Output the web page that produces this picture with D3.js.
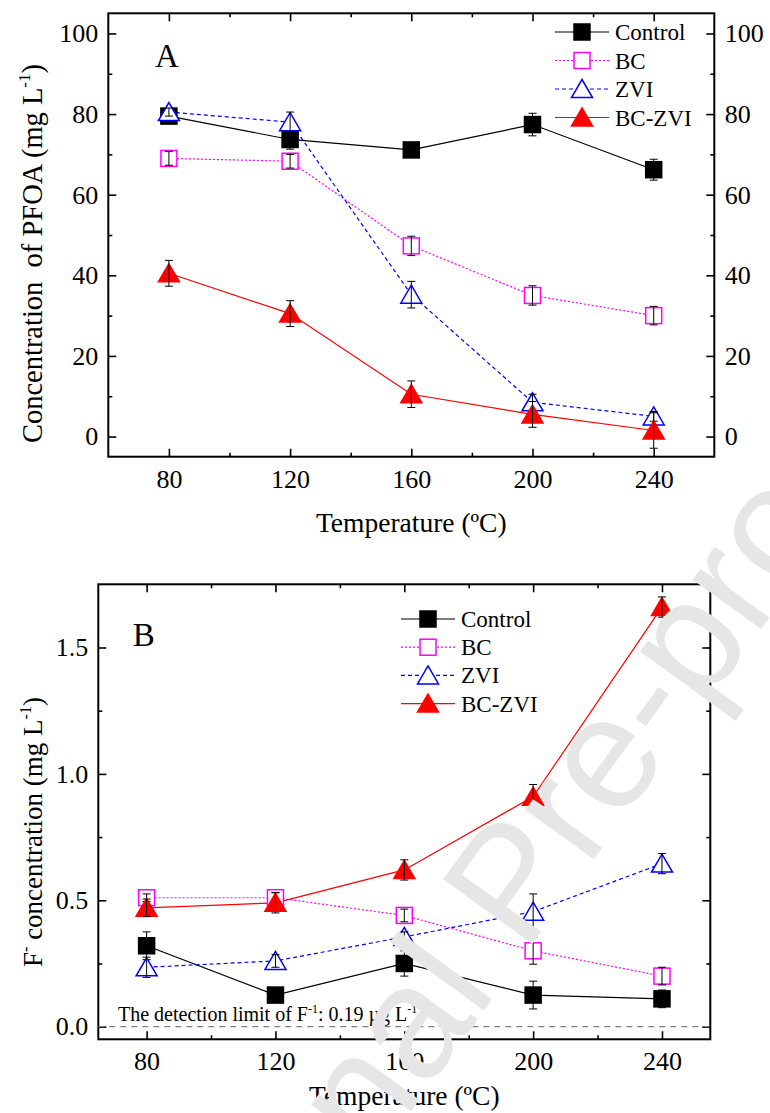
<!DOCTYPE html>
<html>
<head>
<meta charset="utf-8">
<script src="https://cdn.jsdelivr.net/npm/d3@7"></script>
<style>
body { margin: 0; background: #fff; }
text { font-family: "Liberation Serif", "Times New Roman", serif; }
</style>
</head>
<body>
<div class="chart"></div>
<script>
const temps = [80, 120, 160, 200, 240];
const names = ["Control", "BC", "ZVI", "BC-ZVI"];

// panel A, PFOA concentration (mg/L)
const pfoaControl = [79.5, 73.7, 71.1, 77.4, 66.2];
const pfoaControlErr = [1.6, 2.4, 1.0, 2.8, 2.6];
const pfoaBC = [69.0, 68.3, 47.3, 35.0, 30.0];
const pfoaBCErr = [1.7, 1.7, 2.4, 2.4, 2.3];
const pfoaZVI = [80.5, 78.0, 35.2, 8.5, 5.0];
const pfoaZVIErr = [1.0, 2.5, 3.3, 2.0, 1.2];
const pfoaBCZVI = [40.5, 30.5, 10.5, 5.5, 1.5];
const pfoaBCZVIErr = [3.2, 3.2, 3.3, 3.2, 4.4];

// panel B, F- concentration (mg/L)
const fControl = [0.32, 0.125, 0.25, 0.125, 0.11];
const fControlErr = [0.055, 0.01, 0.05, 0.055, 0.035];
const fBC = [0.51, 0.51, 0.44, 0.30, 0.20];
const fBCErr = [0.015, 0.02, 0.025, 0.053, 0.035];
const fZVI = [0.235, 0.26, 0.355, 0.455, 0.645];
const fZVIErr = [0.04, 0.025, 0.02, 0.07, 0.04];
const fBCZVI = [0.47, 0.49, 0.62, 0.91, 1.66];
const fBCZVIErr = [0.035, 0.04, 0.04, 0.048, 0.04];

const xTicks = [80, 120, 160, 200, 240];
const xMinor = [100, 140, 180, 220];
const yTicksA = [0, 20, 40, 60, 80, 100];
const yMinorA = [10, 30, 50, 70, 90];
const yTicksB = [0, 0.5, 1.0, 1.5];
const yMinorB = [0.25, 0.75, 1.25];

const styles = {
    "Control": {color: "#000000", dash: null, shape: "square", filled: true},
    "BC": {color: "#ff00ff", dash: "2,2", shape: "square", filled: false},
    "ZVI": {color: "#0000ff", dash: "4,3", shape: "triangle", filled: false},
    "BC-ZVI": {color: "#ff0000", dash: null, shape: "triangle", filled: true}
};

const svg = d3.select(".chart").append("svg")
    .attr("width", 770)
    .attr("height", 1113);

function marker(g, name, x, y) {
    const s = styles[name];
    if (s.shape == "square") {
        g.append("rect")
            .attr("x", x - 8).attr("y", y - 8)
            .attr("width", 16).attr("height", 16)
            .attr("fill", s.filled ? s.color : "#fff")
            .attr("stroke", s.color)
            .attr("stroke-width", 1.5);
    } else {
        g.append("path")
            .attr("d", `M${x},${y - 9.5}L${x + 10.5},${y + 8.5}L${x - 10.5},${y + 8.5}Z`)
            .attr("fill", s.filled ? s.color : "#fff")
            .attr("stroke", s.color)
            .attr("stroke-width", 1.5);
    }
}

function drawPanel(p) {
    const xScale = d3.scaleLinear().domain(p.xDomain).range([p.left, p.right]);
    const yScale = d3.scaleLinear().domain(p.yDomain).range([p.bottom, p.top]);
    const g = svg.append("g");

    // ticks (inward)
    const axes = [
        [d3.axisBottom(xScale).tickValues(xTicks).tickSizeInner(-8).tickPadding(12.5).tickFormat(d3.format("d")), `translate(0,${p.bottom})`, 26],
        [d3.axisBottom(xScale).tickValues(xMinor).tickSizeInner(-4).tickFormat(""), `translate(0,${p.bottom})`, 0],
        [d3.axisTop(xScale).tickValues(xTicks).tickSizeInner(-8).tickFormat(""), `translate(0,${p.top})`, 0],
        [d3.axisTop(xScale).tickValues(xMinor).tickSizeInner(-4).tickFormat(""), `translate(0,${p.top})`, 0],
        [d3.axisLeft(yScale).tickValues(p.yTicks).tickSizeInner(-8).tickPadding(10).tickFormat(p.fmt), `translate(${p.left},0)`, 26],
        [d3.axisLeft(yScale).tickValues(p.yMinor).tickSizeInner(-4).tickFormat(""), `translate(${p.left},0)`, 0],
        [d3.axisRight(yScale).tickValues(p.yTicks).tickSizeInner(-8).tickPadding(10.5).tickFormat(p.rightLabels ? p.fmt : ""), `translate(${p.right},0)`, 26],
        [d3.axisRight(yScale).tickValues(p.yMinor).tickSizeInner(-4).tickFormat(""), `translate(${p.right},0)`, 0]
    ];
    axes.forEach(a => {
        g.append("g")
            .attr("transform", a[1])
            .call(a[0].tickSizeOuter(0))
            .call(ax => ax.select(".domain").remove())
            .call(ax => ax.selectAll(".tick line").attr("stroke", "#000").attr("stroke-width", 1.6))
            .call(ax => ax.selectAll(".tick text")
                .attr("fill", "#000")
                .style("font-family", "'Liberation Serif', 'Times New Roman', serif")
                .style("font-size", a[2] + "px"));
    });

    g.append("rect")
        .attr("x", p.left).attr("y", p.top)
        .attr("width", p.right - p.left).attr("height", p.bottom - p.top)
        .attr("fill", "none").attr("stroke", "#000").attr("stroke-width", 2);

    if (p.detection) {
        g.append("line")
            .attr("x1", p.left).attr("x2", p.right)
            .attr("y1", yScale(0)).attr("y2", yScale(0))
            .attr("stroke", "#808080").attr("stroke-width", 1.3)
            .attr("stroke-dasharray", "6,5");
        const t = g.append("text")
            .attr("x", 118).attr("y", 1021)
            .style("font-size", "20px");
        t.append("tspan").text("The detection limit of F");
        t.append("tspan").attr("dy", -8).style("font-size", "12px").text("-1");
        t.append("tspan").attr("dy", 8).text(": 0.19 \u00b5g L");
        t.append("tspan").attr("dy", -8).style("font-size", "12px").text("-1");
    }

    // lines
    const line = d3.line().x((d, i) => xScale(temps[i])).y(d => yScale(d));
    names.forEach(n => {
        g.append("path")
            .datum(p.values[n])
            .attr("d", line)
            .attr("fill", "none")
            .attr("stroke", styles[n].color)
            .attr("stroke-width", 1.2)
            .attr("stroke-dasharray", styles[n].dash);
    });

    // markers and error bars
    names.forEach(n => {
        const vals = p.values[n], errs = p.errors[n];
        vals.forEach((v, i) => marker(g, n, xScale(temps[i]), yScale(v)));
        vals.forEach((v, i) => {
            const x = xScale(temps[i]);
            const y1 = yScale(v - errs[i]), y2 = yScale(v + errs[i]);
            g.append("path")
                .attr("d", `M${x},${y1}V${y2}M${x - 4},${y1}H${x + 4}M${x - 4},${y2}H${x + 4}`)
                .attr("fill", "none")
                .attr("stroke", "#000")
                .attr("stroke-width", 1);
        });
    });

    // legend
    names.forEach((n, i) => {
        const y = p.legend.y + i * p.legend.dy;
        g.append("line")
            .attr("x1", p.legend.x - 27).attr("x2", p.legend.x + 27)
            .attr("y1", y).attr("y2", y)
            .attr("stroke", styles[n].color)
            .attr("stroke-width", 1.2)
            .attr("stroke-dasharray", styles[n].dash);
        marker(g, n, p.legend.x, y);
        g.append("text")
            .attr("x", p.legend.x + 33).attr("y", y)
            .attr("dy", "0.35em")
            .style("font-size", "23px")
            .text(n);
    });

    g.append("text")
        .attr("x", p.letter[0]).attr("y", p.letter[1])
        .style("font-size", "33px")
        .text(p.letter[2]);

    g.append("text")
        .attr("x", (p.left + p.right) / 2).attr("y", p.xTitleY)
        .attr("text-anchor", "middle")
        .style("font-size", "27.5px")
        .text("Temperature (\u00baC)");

    const yt = g.append("text")
        .attr("transform", `translate(42,${p.yTitle.cy}) rotate(-90)`)
        .attr("text-anchor", "middle")
        .style("font-size", p.yTitle.size + "px")
        .style("white-space", "pre");
    p.yTitle.parts.forEach(part => {
        yt.append("tspan")
            .attr("dy", part.sup ? -0.42 * p.yTitle.size : (part.back ? 0.42 * p.yTitle.size : 0))
            .style("font-size", part.sup ? (0.6 * p.yTitle.size) + "px" : null)
            .text(part.t);
    });
}

drawPanel({
    left: 108.3, right: 714.3, top: 13.3, bottom: 456.7,
    xDomain: [60, 260], yDomain: [-5, 105],
    yTicks: yTicksA, yMinor: yMinorA, fmt: d3.format("d"), rightLabels: true,
    values: {"Control": pfoaControl, "BC": pfoaBC, "ZVI": pfoaZVI, "BC-ZVI": pfoaBCZVI},
    errors: {"Control": pfoaControlErr, "BC": pfoaBCErr, "ZVI": pfoaZVIErr, "BC-ZVI": pfoaBCZVIErr},
    legend: {x: 582, y: 32, dy: 28.5},
    letter: [155, 66.7, "A"],
    xTitleY: 532,
    yTitle: {cy: 253.5, size: 28.5, parts: [{t: "Concentration  of PFOA (mg L"}, {t: "-1", sup: true}, {t: ")", back: true}]}
});

drawPanel({
    left: 98.3, right: 710.3, top: 584.3, bottom: 1039.3,
    xDomain: [65, 255], yDomain: [-0.05, 1.75],
    yTicks: yTicksB, yMinor: yMinorB, fmt: d3.format(".1f"), rightLabels: false,
    values: {"Control": fControl, "BC": fBC, "ZVI": fZVI, "BC-ZVI": fBCZVI},
    errors: {"Control": fControlErr, "BC": fBCErr, "ZVI": fZVIErr, "BC-ZVI": fBCZVIErr},
    legend: {x: 428, y: 619, dy: 28.2},
    letter: [132.7, 646, "B"],
    xTitleY: 1105,
    detection: true,
    yTitle: {cy: 832, size: 27, parts: [{t: "F"}, {t: "-", sup: true}, {t: " concentration (mg L", back: true}, {t: "-1", sup: true}, {t: ")", back: true}]}
});

// watermark
svg.append("text")
    .attr("transform", "translate(190,1415) rotate(-54)")
    .style("font-family", "'Liberation Sans', Arial, sans-serif")
    .style("font-size", "160px")
    .attr("fill", "#e6e6e6")
    .text("Journal Pre-proof");
</script>
</body>
</html>
